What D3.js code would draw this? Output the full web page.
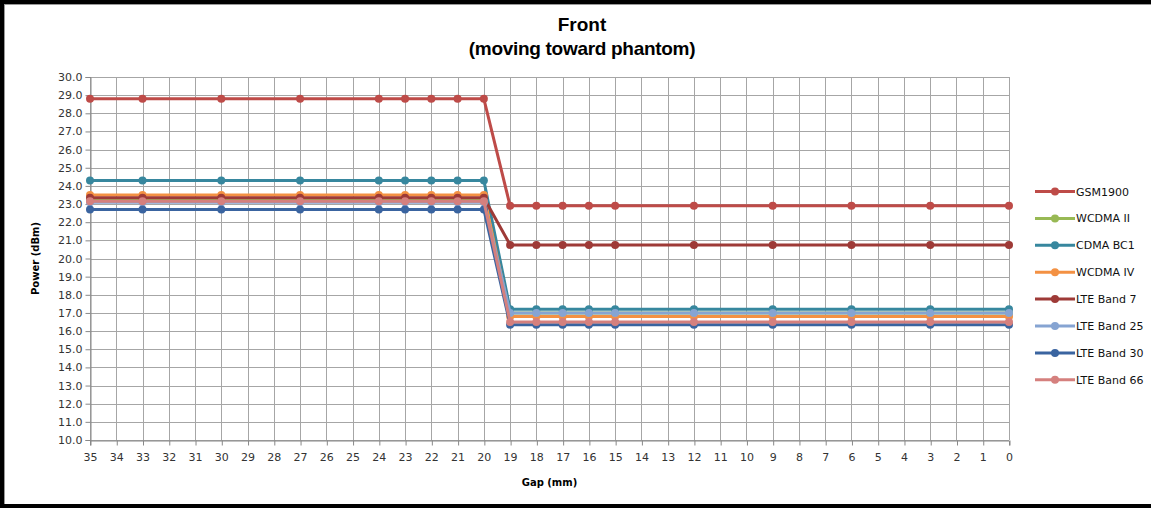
<!DOCTYPE html>
<html>
<head>
<meta charset="utf-8">
<script src="https://cdn.jsdelivr.net/npm/d3@7"></script>
<style>
	body { margin:0; background:#fff; }
</style>
</head>
<body>
<div id="chart"></div>
<script>

// Datos
var gaps = [35, 33, 30, 27, 24, 23, 22, 21, 20, 19, 18, 17, 16, 15, 12, 9, 6, 3, 0];
var seriesNames = ["GSM1900", "WCDMA II", "CDMA BC1", "WCDMA IV", "LTE Band 7", "LTE Band 25", "LTE Band 30", "LTE Band 66"];
var seriesColors = ["#BE4B48", "#98B954", "#37879E", "#F39143", "#9E3A37", "#86A4D2", "#3A64A0", "#D5807E"];
// potencia antes (35-20 mm) y despues (19-0 mm)
var powerFar  = [28.8, 23.2, 24.3, 23.5, 23.35, 23.1, 22.7, 23.15];
var powerNear = [22.9, 17.0, 17.2, 16.8, 20.75, 17.0, 16.35, 16.5];
var xTicks = d3.range(35, -1, -1);
var yTicks = d3.range(10, 30.001, 1);

var W = 1151, H = 508;
var margin = {left: 90, right: 142, top: 77, bottom: 68};
var fontTxt = "DejaVu Sans, Verdana, sans-serif";
var fontTitle = "Liberation Sans, Arial, sans-serif";

var svg = d3.select("#chart").append("svg").attr("width", W).attr("height", H)
	.attr("font-family", fontTxt);

// marco
svg.append("rect").attr("x", 0).attr("y", 0).attr("width", W + 10).attr("height", H)
	.attr("fill", "none").attr("stroke", "#000").attr("stroke-width", 8);
svg.append("line").attr("x1", 4.5).attr("x2", 4.5).attr("y1", 4).attr("y2", H - 4)
	.attr("stroke", "#999").attr("stroke-width", 1);
svg.append("line").attr("x1", 4).attr("x2", W).attr("y1", 4.5).attr("y2", 4.5)
	.attr("stroke", "#999").attr("stroke-width", 1);

var x = d3.scaleLinear().domain([35, 0]).range([margin.left, W - margin.right]);
var y = d3.scaleLinear().domain([10, 30]).range([H - margin.bottom, margin.top]);

// grilla
svg.append("g").selectAll("line.gx").data(xTicks).enter().append("line")
	.attr("x1", function(d) { return Math.round(x(d)) + 0.5; })
	.attr("x2", function(d) { return Math.round(x(d)) + 0.5; })
	.attr("y1", y(30)).attr("y2", y(10))
	.attr("stroke", "#A6A6A6").attr("stroke-width", 1);
svg.append("g").selectAll("line.gy").data(yTicks).enter().append("line")
	.attr("x1", x(35)).attr("x2", x(0))
	.attr("y1", function(d) { return Math.round(y(d)) + 0.5; })
	.attr("y2", function(d) { return Math.round(y(d)) + 0.5; })
	.attr("stroke", "#A6A6A6").attr("stroke-width", 1);

// ejes
var xAxis = svg.append("g").attr("transform", "translate(0," + (Math.round(y(10)) + 0.5) + ")")
	.call(d3.axisBottom(x).tickValues(xTicks).tickFormat(d3.format("d")).tickSize(5).tickPadding(8));
var yAxis = svg.append("g").attr("transform", "translate(" + (Math.round(x(35)) + 0.5) + ",0)")
	.call(d3.axisLeft(y).tickValues(yTicks).tickFormat(d3.format(".1f")).tickSize(5).tickPadding(3));
[xAxis, yAxis].forEach(function(a) {
	a.select(".domain").attr("stroke", "#888");
	a.selectAll(".tick line").attr("stroke", "#888");
	a.selectAll(".tick text").attr("fill", "#333").attr("font-size", "11px")
		.attr("font-family", fontTxt);
});
xAxis.selectAll(".tick line").attr("transform", "translate(0.5,0)");

// titulos
svg.append("text").attr("x", 582).attr("y", 31).attr("text-anchor", "middle")
	.attr("font-family", fontTitle).attr("font-weight", "bold")
	.attr("font-size", "19px").attr("fill", "#000").text("Front");
svg.append("text").attr("x", 582).attr("y", 55).attr("text-anchor", "middle")
	.attr("font-family", fontTitle).attr("font-weight", "bold")
	.attr("font-size", "19px").attr("letter-spacing", "-0.3px").attr("fill", "#000")
	.text("(moving toward phantom)");

svg.append("text").attr("transform", "translate(39," + y(20) + ") rotate(-90)")
	.attr("text-anchor", "middle").attr("font-weight", "bold").attr("font-size", "10px")
	.attr("fill", "#000").text("Power (dBm)");
svg.append("text").attr("x", x(17.5)).attr("y", 486).attr("text-anchor", "middle")
	.attr("font-weight", "bold").attr("font-size", "10px").attr("fill", "#000").text("Gap (mm)");

// series
var series = seriesNames.map(function(name, i) {
	return {
		name: name,
		color: seriesColors[i],
		values: gaps.map(function(g) { return {gap: g, power: g >= 20 ? powerFar[i] : powerNear[i]}; })
	};
});

var line = d3.line().x(function(d) { return x(d.gap); }).y(function(d) { return y(d.power); });

var gSeries = svg.selectAll("g.serie").data(series).enter().append("g").attr("class", "serie");
gSeries.append("path")
	.attr("d", function(d) { return line(d.values); })
	.attr("fill", "none").attr("stroke", function(d) { return d.color; })
	.attr("stroke-width", 3).attr("stroke-linejoin", "round");
gSeries.selectAll("circle").data(function(d) { return d.values.map(function(v) { return {v: v, color: d.color}; }); })
	.enter().append("circle")
	.attr("cx", function(d) { return x(d.v.gap); })
	.attr("cy", function(d) { return y(d.v.power); })
	.attr("r", 4)
	.attr("fill", function(d) { return d.color; });

// leyenda
var legend = svg.append("g").selectAll("g").data(series).enter().append("g")
	.attr("transform", function(d, i) { return "translate(1035," + (191.5 + i * 26.9) + ")"; });
legend.append("line").attr("x1", 0).attr("x2", 40).attr("y1", 0).attr("y2", 0)
	.attr("stroke", function(d) { return d.color; }).attr("stroke-width", 3);
legend.append("circle").attr("cx", 20).attr("cy", 0).attr("r", 4)
	.attr("fill", function(d) { return d.color; });
legend.append("text").attr("x", 41).attr("y", 4).attr("font-size", "11px").attr("fill", "#111")
	.text(function(d) { return d.name; });

</script>
</body>
</html>
